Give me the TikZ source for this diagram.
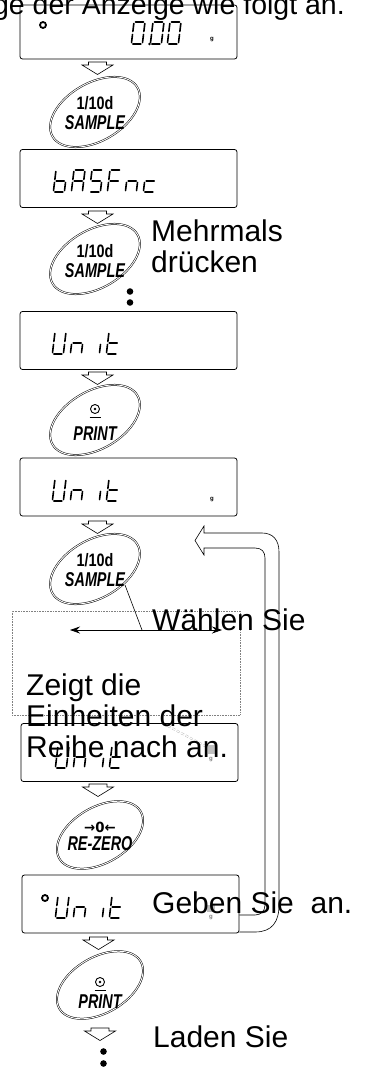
\documentclass[tikz,border=0pt]{standalone}
\usepackage{fontspec}
\setmainfont{Liberation Sans}
\newfontfamily\symfont{DejaVu Sans}
\usetikzlibrary{shapes.geometric,arrows.meta}

% seven segment pieces, digit box 11 x 22
\newcommand{\lcdsega}{\draw[lcdseg] (1.5,0) -- (9.5,0);}
\newcommand{\lcdsegb}{\draw[lcdseg] (11,1.5) -- (11,9.5);}
\newcommand{\lcdsegc}{\draw[lcdseg] (11,12.5) -- (11,20.5);}
\newcommand{\lcdsegd}{\draw[lcdseg] (1.5,22) -- (9.5,22);}
\newcommand{\lcdsege}{\draw[lcdseg] (0,12.5) -- (0,20.5);}
\newcommand{\lcdsegf}{\draw[lcdseg] (0,1.5) -- (0,9.5);}
\newcommand{\lcdsegg}{\draw[lcdseg] (1.5,11) -- (9.5,11);}
\newcommand{\lcdchar}[3]{%
  \begin{scope}[shift={(#1,#2)},xslant=0.12]
    \foreach \s in {#3}{\csname lcdseg\s\endcsname}
  \end{scope}}
\newcommand{\lcdunit}[2]{%
  \lcdchar{#1}{#2}{b,c,d,e,f}\lcdchar{#1+18}{#2}{c,e,g}%
  \lcdchar{#1+36}{#2}{c}\lcdchar{#1+54}{#2}{d,e,f,g}}
\newcommand{\keyup}[1]{\scalebox{.8}[1]{\fontsize{18}{18}\selectfont\bfseries #1}}
\newcommand{\keylow}[1]{\scalebox{.72}[1]{\fontsize{20}{20}\selectfont\bfseries\itshape #1}}

\begin{document}
\begin{tikzpicture}[x=1pt,y=-1pt,
	lcd/.style={draw, rounded corners=2.5pt, line width=0.8pt, minimum width=217, minimum height=58, inner sep=0},
	lcdseg/.style={line width=1.6pt, line cap=round},
	key/.style={ellipse, draw, double, double distance=0.9pt, line width=0.5pt, minimum width=98, minimum height=58, rotate=30, inner sep=0},
	keylbl/.style={inner sep=0},
	flow/.pic={\draw[line width=0.6pt, fill=white] (-9,0) -- (9,0) -- (9,3) -- (15.5,3) -- (0,12.5) -- (-15.5,3) -- (-9,3) -- cycle;},
	note/.style={font=\fontsize{30}{31}\selectfont, inner sep=0, align=left},
	unitg/.style={font=\fontsize{6}{6}\selectfont\bfseries, inner sep=0},
	dot/.style={circle, fill, inner sep=0, minimum size=6.6}]
	\useasboundingbox (0,0) rectangle (368,1068);
	\node[note, anchor=base east, font=\fontsize{28.5}{30}\selectfont] (head) at (345,14) {ge der Anzeige wie folgt an.};

	\node[lcd, minimum height=54] (disp1) at (128.5,32) {};
	\draw[line width=1.8pt] (43,25) circle (3);
	\lcdchar{134}{22}{a,b,c,d,e,f}
	\fill (149.5,44) circle (1.4);
	\lcdchar{153}{22}{a,b,c,d,e,f}
	\lcdchar{170}{22}{a,b,c,d,e,f}
	\node[unitg] (g1) at (212,40) {g};
	\pic (f1) at (97.5,62) {flow};
	\node[key] (key1) at (95,112) {};
	\node[keylbl] (key1a) at ([yshift=8.5pt]key1.center) {\keyup{1/10d}};
	\node[keylbl] (key1b) at ([yshift=-11pt]key1.center) {\keylow{SAMPLE}};

	\node[lcd] (disp2) at (128.5,178.5) {};
	\lcdchar{56}{170}{c,d,e,f,g}
	\lcdchar{74}{170}{a,b,c,e,f,g}
	\lcdchar{92}{170}{a,c,d,f,g}
	\lcdchar{110}{170}{a,e,f,g}
	\lcdchar{128}{170}{c,e,g}
	\lcdchar{146}{170}{d,e,g}
	\pic (f2) at (97.5,211) {flow};
	\node[key] (key2) at (95,259) {};
	\node[keylbl] (key2a) at ([yshift=8pt]key2.center) {\keyup{1/10d}};
	\node[keylbl] (key2b) at ([yshift=-12pt]key2.center) {\keylow{SAMPLE}};
	\node[note, anchor=base west] (hint1) at (151,272) {Mehrmals\\drücken};
	\node[dot] (more1) at (130,291.5) {};
	\node[dot] (more2) at (130,302.5) {};

	\node[lcd] (disp3) at (128.5,340.5) {};
	\lcdunit{55}{332}
	\pic (f3) at (97.5,372) {flow};
	\node[key] (key3) at (95,420) {};
	\draw[line width=0.9pt] ([yshift=11pt]key3.center) circle (4.5);
	\fill ([yshift=11pt]key3.center) circle (1.3);
	\draw[line width=1pt] ([xshift=-5.5pt,yshift=3pt]key3.center) -- ([xshift=5.5pt,yshift=3pt]key3.center);
	\node[keylbl] (key3b) at ([yshift=-13.5pt]key3.center) {\keylow{PRINT}};

	\node[lcd] (disp4) at (128.5,487) {};
	\lcdunit{55}{479}
	\node[unitg] (g4) at (212,500) {g};
	\pic (f4) at (97.5,521) {flow};
	\node[key] (key4) at (95,569) {};
	\node[keylbl] (key4a) at ([yshift=8.5pt]key4.center) {\keyup{1/10d}};
	\node[keylbl] (key4b) at ([yshift=-11pt]key4.center) {\keylow{SAMPLE}};

	\node[draw=gray, densely dotted, line width=0.6pt, minimum width=228, minimum height=104, inner sep=0] (pane) at (126,663) {};
	\coordinate (selL) at (70,630);
	\coordinate (selR) at (222,630);
	\coordinate (selP) at (142,630);
	\draw[line width=0.7pt, {Stealth[length=10pt,width=7pt]}-{Stealth[length=10pt,width=7pt]}] (selL) -- (selR);
	\draw[line width=0.6pt] ([shift={(30,16)}]key4.center) -- (selP);
	\node[note, anchor=base west] (hint2) at (152,630) {Wählen Sie};

	\node[lcd] (disp5) at (129.5,752.5) {};
	\lcdunit{58}{746}
	\draw[gray!60, densely dashed, double, double distance=1.2pt] (168,726) -- (207,747);
	\fill[gray!50] (208,745) rectangle (216,754);
	\node[unitg, text=gray] (g5) at (211,760) {g};
	\node[note, anchor=base west] (hint3) at (26,757) {Zeigt die\\Einheiten der\\Reihe nach an.};
	\pic (f5) at (98,784) {flow};
	\node[key, minimum width=94, minimum height=56] (key5) at (100,835) {};
	\node[keylbl] (key5a) at ([yshift=8pt]key5.center) {\scalebox{.95}[1]{\symfont\fontsize{14}{14}\selectfont\bfseries →0←}};
	\node[keylbl] (key5b) at ([yshift=-9pt]key5.center) {\keylow{RE-ZERO}};

	\node[lcd] (disp6) at (130.5,904) {};
	\draw[line width=1.8pt] (45,898) circle (3);
	\lcdunit{58}{896}
	\fill[gray!50] (207,905) rectangle (215,912);
	\node[unitg, text=gray] (g6) at (211,918) {g};
	\node[note, anchor=base west] (hint4) at (152,913) {Geben Sie \ an.};
	\coordinate (back) at (195,540.5);
	\draw[line width=0.6pt] ([yshift=-28pt]disp6.east) -- (255,932) .. controls (272,932) and (279,922) .. (279,905)
		-- (279,552) .. controls (279,540) and (273,533) .. (262,533) -- (204,533) -- (204,526) -- (back)
		-- (204,555) -- (204,548) -- (255,548) .. controls (262,548) and (265,552) .. (265,558)
		-- (265,905) .. controls (265,911) and (261,915) .. (255,915) -- ([yshift=-11pt]disp6.east);
	\pic (f6) at (98.5,937) {flow};
	\node[key, minimum width=94, minimum height=56] (key6) at (100,985) {};
	\draw[line width=0.9pt] ([yshift=3pt]key6.center) circle (4.5);
	\fill ([yshift=3pt]key6.center) circle (1.3);
	\draw[line width=1pt] ([xshift=-5.5pt,yshift=-5.5pt]key6.center) -- ([xshift=5.5pt,yshift=-5.5pt]key6.center);
	\node[keylbl] (key6b) at ([yshift=-16.5pt]key6.center) {\keylow{PRINT}};
	\pic (f7) at (100,1028) {flow};
	\node[note, anchor=base west] (hint5) at (153,1047) {Laden Sie};
	\node[dot] (more3) at (103.5,1051.5) {};
	\node[dot] (more4) at (103.5,1063.5) {};
\end{tikzpicture}
\end{document}
